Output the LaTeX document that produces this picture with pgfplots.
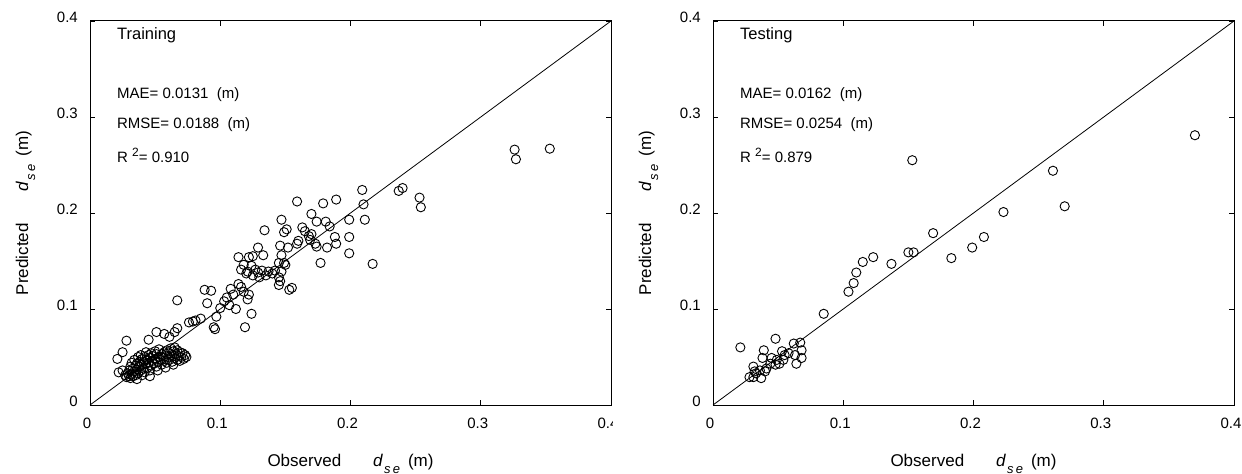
\documentclass[border=0pt]{standalone}
\usepackage{pgfplots}
\usepackage{pgfplotstable}
\pgfplotsset{compat=1.18}
\usepackage{fontspec}
\setmainfont{Liberation Sans}

\pgfplotstableread{
x y
0.022 0.034
0.025 0.036
0.027 0.031
0.028 0.029
0.029 0.033
0.030 0.030
0.030 0.036
0.031 0.040
0.031 0.028
0.032 0.032
0.032 0.044
0.033 0.030
0.033 0.038
0.034 0.035
0.034 0.047
0.035 0.041
0.035 0.031
0.036 0.043
0.036 0.037
0.037 0.050
0.037 0.033
0.038 0.045
0.038 0.040
0.039 0.036
0.039 0.052
0.040 0.042
0.040 0.048
0.041 0.038
0.041 0.045
0.042 0.050
0.042 0.034
0.043 0.043
0.043 0.055
0.044 0.047
0.044 0.039
0.045 0.052
0.045 0.044
0.046 0.049
0.046 0.036
0.047 0.054
0.047 0.041
0.048 0.046
0.048 0.051
0.049 0.043
0.050 0.056
0.050 0.048
0.051 0.040
0.051 0.053
0.052 0.045
0.053 0.050
0.053 0.058
0.054 0.047
0.055 0.053
0.055 0.042
0.056 0.049
0.057 0.055
0.057 0.046
0.058 0.051
0.059 0.057
0.059 0.044
0.060 0.050
0.061 0.054
0.061 0.047
0.062 0.059
0.063 0.052
0.063 0.045
0.064 0.056
0.065 0.049
0.065 0.060
0.066 0.053
0.067 0.047
0.067 0.057
0.068 0.051
0.069 0.055
0.069 0.046
0.070 0.050
0.071 0.054
0.072 0.048
0.073 0.052
0.074 0.050
0.052 0.036
0.046 0.030
0.040 0.031
0.036 0.027
0.058 0.039
0.064 0.042
0.021 0.048
0.025 0.055
0.028 0.067
0.045 0.068
0.051 0.076
0.057 0.074
0.061 0.071
0.065 0.076
0.067 0.080
0.067 0.109
0.076 0.086
0.079 0.087
0.081 0.088
0.085 0.090
0.088 0.120
0.093 0.119
0.090 0.106
0.095 0.081
0.096 0.079
0.097 0.092
0.100 0.101
0.103 0.108
0.105 0.112
0.107 0.104
0.110 0.115
0.108 0.121
0.112 0.100
0.119 0.081
0.124 0.095
0.121 0.110
0.116 0.123
0.114 0.126
0.118 0.118
0.122 0.115
0.120 0.137
0.125 0.135
0.130 0.133
0.135 0.135
0.140 0.137
0.145 0.133
0.146 0.129
0.153 0.120
0.114 0.154
0.122 0.154
0.118 0.146
0.124 0.145
0.116 0.141
0.127 0.141
0.132 0.140
0.137 0.139
0.142 0.140
0.147 0.139
0.121 0.139
0.129 0.138
0.133 0.156
0.125 0.155
0.147 0.156
0.149 0.148
0.150 0.146
0.145 0.148
0.145 0.125
0.155 0.122
0.129 0.164
0.146 0.166
0.152 0.164
0.134 0.182
0.147 0.193
0.151 0.183
0.149 0.180
0.159 0.212
0.160 0.171
0.159 0.168
0.163 0.185
0.165 0.181
0.168 0.176
0.170 0.178
0.169 0.172
0.173 0.168
0.174 0.165
0.170 0.199
0.174 0.191
0.179 0.210
0.181 0.191
0.184 0.186
0.189 0.214
0.188 0.175
0.189 0.168
0.182 0.164
0.177 0.148
0.199 0.193
0.199 0.175
0.199 0.158
0.209 0.224
0.210 0.209
0.211 0.193
0.217 0.147
0.237 0.223
0.240 0.226
0.253 0.216
0.254 0.206
0.326 0.266
0.327 0.256
0.353 0.267
}\train

\pgfplotstableread{
x y
0.021 0.060
0.048 0.069
0.039 0.057
0.038 0.049
0.062 0.064
0.067 0.065
0.068 0.057
0.068 0.049
0.064 0.043
0.063 0.052
0.053 0.056
0.055 0.052
0.058 0.054
0.054 0.047
0.051 0.043
0.048 0.042
0.049 0.047
0.045 0.049
0.044 0.043
0.041 0.038
0.040 0.035
0.036 0.036
0.031 0.040
0.032 0.035
0.028 0.029
0.031 0.029
0.037 0.028
0.033 0.033
0.085 0.095
0.104 0.118
0.108 0.127
0.110 0.138
0.115 0.149
0.123 0.154
0.137 0.147
0.150 0.159
0.154 0.159
0.153 0.255
0.169 0.179
0.183 0.153
0.199 0.164
0.208 0.175
0.223 0.201
0.261 0.244
0.270 0.207
0.370 0.281
}\test

\newcommand{\dse}{\textit{d}\hspace{1bp}\raisebox{-7bp}{\fontsize{13bp}{13bp}\selectfont\textit{s\,e}}\hspace{8bp}(m)}
\pgfplotsset{
  myax/.style={
    scale only axis, width=521bp, height=384bp,
    anchor=south west,
    xmin=0, xmax=0.4, ymin=0, ymax=0.4,
    xtick={0,0.1,0.2,0.3,0.4}, ytick={0,0.1,0.2,0.3,0.4},
    xticklabels={0,0.1,0.2,0.3,0.4}, yticklabels={0,0.1,0.2,0.3,0.4},
    tick align=inside, major tick length=5bp,
    tick style={black, line width=0.8bp},
    axis line style={black, line width=1bp},
    tick label style={font=\fontsize{15bp}{17bp}\selectfont},
    xticklabel style={anchor=north, inner sep=0pt, yshift=-13bp, xshift=-3bp},
    yticklabel style={anchor=east, inner sep=0pt, xshift=-12bp, yshift=4bp},
    clip=false,
  },
}
\tikzset{
  ann/.style={anchor=west, font=\fontsize{15bp}{17bp}\selectfont, inner sep=0pt},
  lab/.style={anchor=base, font=\fontsize{17bp}{19bp}\selectfont, inner sep=0pt},
}

\begin{document}
\begin{tikzpicture}
\useasboundingbox (0,0) rectangle (1242bp,474bp);
\begin{axis}[myax, at={(90bp,69bp)}]
  \addplot[black, line width=0.8bp] coordinates {(0,0) (0.4,0.4)};
  \addplot[only marks, mark=o, mark size=4.6bp, mark options={black, line width=0.9bp}] table[x=x,y=y] {\train};
  \node[ann, font=\fontsize{16.5bp}{18bp}\selectfont] at (axis cs:0.0207,0.385) {Training};
  \node[ann] at (axis cs:0.0207,0.323) {MAE= 0.0131\ \ (m)};
  \node[ann] at (axis cs:0.0207,0.292) {RMSE= 0.0188\ \ (m)};
  \node[ann] at (axis cs:0.0207,0.260) {R\ \raisebox{6bp}{\fontsize{12bp}{12bp}\selectfont 2}= 0.910};
  \node[lab] at (axis description cs:0.5,-0.159) {Observed\hspace{32bp}\dse};
  \node[lab, rotate=90] at (axis description cs:-0.119,0.5) {Predicted\hspace{32bp}\dse};
\end{axis}
\fill[white] (612.5bp,0) rectangle (712bp,60bp);
\begin{axis}[myax, at={(713bp,69bp)}]
  \addplot[black, line width=0.8bp] coordinates {(0,0) (0.4,0.4)};
  \addplot[only marks, mark=o, mark size=4.6bp, mark options={black, line width=0.9bp}] table[x=x,y=y] {\test};
  \node[ann, font=\fontsize{16.5bp}{18bp}\selectfont] at (axis cs:0.0207,0.385) {Testing};
  \node[ann] at (axis cs:0.0207,0.323) {MAE= 0.0162\ \ (m)};
  \node[ann] at (axis cs:0.0207,0.292) {RMSE= 0.0254\ \ (m)};
  \node[ann] at (axis cs:0.0207,0.260) {R\ \raisebox{6bp}{\fontsize{12bp}{12bp}\selectfont 2}= 0.879};
  \node[lab] at (axis description cs:0.5,-0.159) {Observed\hspace{32bp}\dse};
  \node[lab, rotate=90] at (axis description cs:-0.119,0.5) {Predicted\hspace{32bp}\dse};
\end{axis}
\end{tikzpicture}
\end{document}
